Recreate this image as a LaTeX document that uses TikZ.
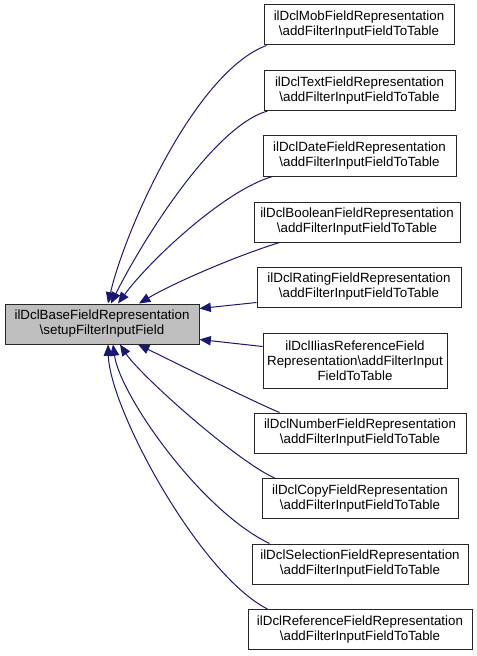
\documentclass[tikz,border=0pt]{standalone}
\usepackage{fontspec}
\setmainfont{Liberation Sans}
\usetikzlibrary{arrows.meta,calc}
\definecolor{edgeblue}{HTML}{191970}
\definecolor{rootfill}{HTML}{BFBFBF}
\begin{document}
\begin{tikzpicture}[x=0.75pt,y=-0.75pt,
  box/.style={draw=black!85, line width=0.75pt, fill=white, align=center,
    font=\fontsize{10}{11.25}\selectfont, inner xsep=3pt, inner ysep=0pt, minimum height=30pt},
  rootbox/.style={box, fill=rootfill},
  edge/.style={draw=edgeblue, line width=0.75pt, -{Triangle[length=8.5pt,width=7pt]}},
]
\useasboundingbox (0,0) rectangle (477,656);

\node[rootbox, minimum width=145.5pt] (base) at (102,324) {ilDclBaseFieldRepresentation\\\textbackslash setupFilterInputField};

\node[box, minimum width=142.5pt] (mob) at (359,25) {ilDclMobFieldRepresentation\\\textbackslash addFilterInputFieldToTable};
\node[box, minimum width=143.25pt] (text) at (359.5,90.5) {ilDclTextFieldRepresentation\\\textbackslash addFilterInputFieldToTable};
\node[box, minimum width=144.75pt] (date) at (359.5,156) {ilDclDateFieldRepresentation\\\textbackslash addFilterInputFieldToTable};
\node[box, minimum width=154.5pt] (bool) at (357,222) {ilDclBooleanFieldRepresentation\\\textbackslash addFilterInputFieldToTable};
\node[box, minimum width=153pt] (rating) at (359,287) {ilDclRatingFieldRepresentation\\\textbackslash addFilterInputFieldToTable};
\node[box, minimum width=138pt, minimum height=41.25pt] (ilias) at (355,360.5) {ilDclIliasReferenceField\\Representation\textbackslash addFilterInput\\FieldToTable};
\node[box, minimum width=159pt] (number) at (360,433) {ilDclNumberFieldRepresentation\\\textbackslash addFilterInputFieldToTable};
\node[box, minimum width=147pt] (copy) at (360,498.5) {ilDclCopyFieldRepresentation\\\textbackslash addFilterInputFieldToTable};
\node[box, minimum width=162pt] (sel) at (360,564) {ilDclSelectionFieldRepresentation\\\textbackslash addFilterInputFieldToTable};
\node[box, minimum width=168pt] (ref) at (360,629.5) {ilDclReferenceFieldRepresentation\\\textbackslash addFilterInputFieldToTable};

\draw[edge] ($(mob.south west)+(3,0)$) .. controls (195,72) and (125,230) .. ($(base.north)+(6,0)$);
\draw[edge] ($(text.south west)+(4,0)$) .. controls (212,127) and (140,245) .. ($(base.north)+(9,0)$);
\draw[edge] ($(date.south west)+(10,0)$) .. controls (225,190) and (150,260) .. ($(base.north)+(16,0)$);
\draw[edge] ($(bool.south west)+(26,0)$) .. controls (230,258) and (170,285) .. ($(base.north)+(37,0)$);
\draw[edge] ($(rating.south west)+(0,-5)$) -- ($(base.north east)+(0,5)$);
\draw[edge] ($(ilias.north west)+(0,14)$) -- ($(base.south east)+(0,-5)$);
\draw[edge] ($(number.north west)+(26,0)$) .. controls (250,400) and (180,365) .. ($(base.south)+(36,0)$);
\draw[edge] ($(copy.north west)+(13,0)$) .. controls (235,460) and (140,375) .. ($(base.south)+(18,0)$);
\draw[edge] ($(sel.north west)+(18,0)$) .. controls (200,510) and (120,395) .. ($(base.south)+(11,0)$);
\draw[edge] ($(ref.north west)+(20,0)$) .. controls (200,575) and (110,410) .. ($(base.south)+(6,0)$);
\end{tikzpicture}
\end{document}
